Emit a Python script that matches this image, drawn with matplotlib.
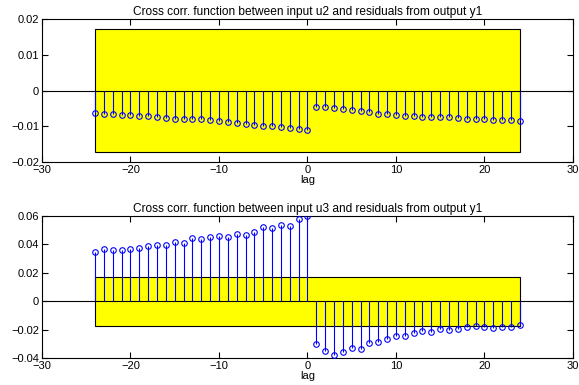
import numpy as np
import matplotlib.pyplot as plt

plt.rcParams['font.family'] = ['Liberation Sans', 'DejaVu Sans']

lags = np.arange(-24, 25)

# cross correlation u2 -> residuals y1
r_u2 = [-0.0063, -0.0065, -0.0066, -0.0068, -0.0067, -0.0070, -0.0072, -0.0073,
        -0.0076, -0.0079, -0.0079, -0.0080, -0.0080, -0.0083, -0.0085, -0.0089,
        -0.0090, -0.0093, -0.0095, -0.0098, -0.0099, -0.0103, -0.0105, -0.0107,
        -0.0111,
        -0.0045, -0.0046, -0.0049, -0.0052, -0.0055, -0.0057, -0.0060, -0.0064,
        -0.0065, -0.0067, -0.0070, -0.0072, -0.0073, -0.0074, -0.0075, -0.0075,
        -0.0076, -0.0079, -0.0079, -0.0080, -0.0081, -0.0082, -0.0082, -0.0085]

# cross correlation u3 -> residuals y1
r_u3 = [0.0346, 0.0367, 0.0360, 0.0362, 0.0369, 0.0372, 0.0386, 0.0397,
        0.0397, 0.0418, 0.0411, 0.0444, 0.0439, 0.0451, 0.0458, 0.0453,
        0.0470, 0.0465, 0.0488, 0.0519, 0.0514, 0.0533, 0.0530, 0.0577,
        0.0596,
        -0.0299, -0.0348, -0.0379, -0.0357, -0.0329, -0.0332, -0.0292, -0.0285,
        -0.0262, -0.0243, -0.0245, -0.0220, -0.0206, -0.0213, -0.0196, -0.0201,
        -0.0194, -0.0180, -0.0175, -0.0182, -0.0187, -0.0180, -0.0178, -0.0168]

conf = [0.0172, 0.0173]
titles = ['Cross corr. function between input u2 and residuals from output y1',
          'Cross corr. function between input u3 and residuals from output y1']
ylims = [(-0.02, 0.02), (-0.04, 0.06)]
yticks = [[-0.02, -0.01, 0, 0.01, 0.02],
          [-0.04, -0.02, 0, 0.02, 0.04, 0.06]]
ylabels = [['\u22120.02', '\u22120.01', '0', '0.01', '0.02'],
           ['\u22120.04', '\u22120.02', '0', '0.02', '0.04', '0.06']]

fig = plt.figure(figsize=(5.79, 3.85), dpi=100)
axpos = [[0.0725, 0.579, 0.917, 0.371],
         [0.0725, 0.0694, 0.917, 0.370]]

for i, r in enumerate([r_u2, r_u3]):
    ax = fig.add_axes(axpos[i])
    c = conf[i]
    ax.fill([lags[0], lags[-1], lags[-1], lags[0]], [c, c, -c, -c],
            facecolor='#ffff00', edgecolor='black', linewidth=0.8, zorder=1)
    ax.axhline(0, color='black', linewidth=0.8, zorder=2)
    ax.vlines(lags, 0, r, color='blue', linewidth=0.8, zorder=3)
    ax.plot(lags, r, 'o', markerfacecolor='none', markeredgecolor='blue',
            markersize=4, markeredgewidth=0.8, zorder=4)
    ax.set_xlim(-30, 30)
    ax.set_ylim(*ylims[i])
    ax.set_xticks([-30, -20, -10, 0, 10, 20, 30])
    ax.set_xticklabels(['\u221230', '\u221220', '\u221210', '0', '10', '20', '30'])
    ax.set_yticks(yticks[i])
    ax.set_yticklabels(ylabels[i])
    ax.tick_params(direction='in', top=True, right=True, labelsize=8, length=4,
                   pad=2)
    ax.set_title(titles[i], fontsize=8.6, pad=3)
    ax.set_xlabel('lag', fontsize=8, labelpad=0)

fig.savefig('out.png', dpi=100)
